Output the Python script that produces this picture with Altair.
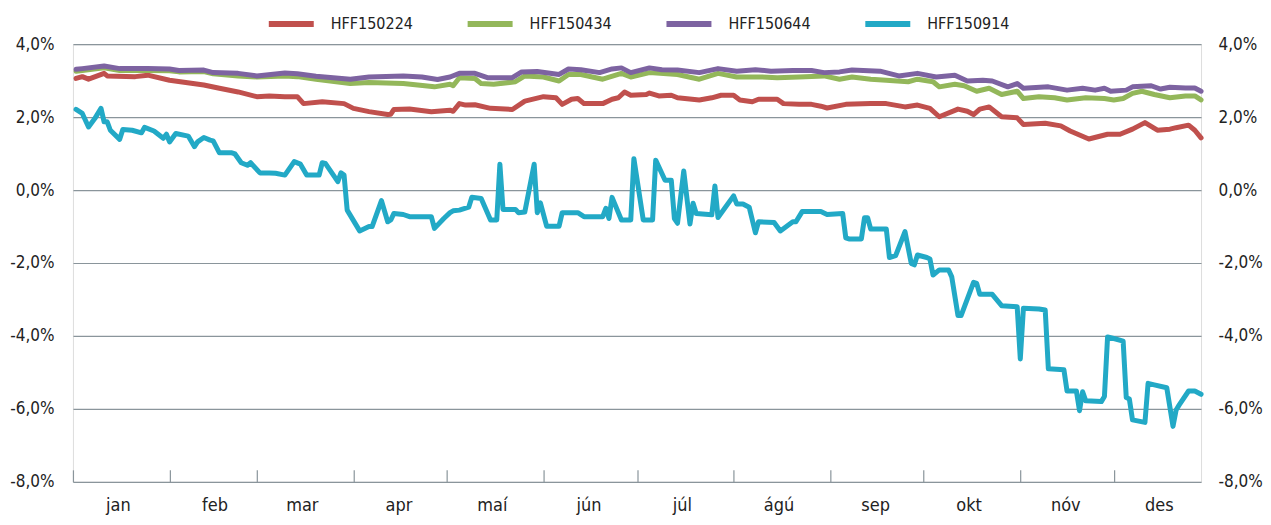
import json
import altair as alt
import pandas as pd

YEAR = 2018
series_names = ["HFF150224", "HFF150434", "HFF150644", "HFF150914"]
series_colors = ["#c0504d", "#93b75a", "#7d63a1", "#22a9c6"]
month_labels = ["jan", "feb", "mar", "apr", "maí", "jún", "júl", "ágú", "sep", "okt", "nóv", "des"]
y_ticks = [-8, -6, -4, -2, 0, 2, 4]

# day index from 1 January
red_days = [1, 3, 5, 10, 11, 20, 24, 31, 42, 47, 53, 59, 63, 68, 72, 74, 80, 87, 90, 95,
            101, 102, 103, 108, 115, 121, 122, 124, 126, 129, 134, 141, 145, 151, 155, 157, 160, 162, 164, 170,
            173, 175, 177, 179, 184, 185, 188, 192, 194, 201, 205, 208, 212, 214, 218, 220, 226, 228, 233, 237,
            240, 242, 248, 256, 261, 267, 271, 275, 278, 284, 287, 289, 291, 294, 298, 303, 305, 312, 317, 320,
            326, 332, 336, 340, 344, 348, 352, 354, 358, 360, 362]
red_vals = [3.06, 3.11, 3.04, 3.20, 3.13, 3.11, 3.15, 3.01, 2.88, 2.79, 2.69, 2.56, 2.58, 2.56, 2.56, 2.37, 2.42, 2.37, 2.24, 2.15,
            2.07, 2.08, 2.21, 2.22, 2.15, 2.19, 2.16, 2.37, 2.33, 2.34, 2.24, 2.21, 2.44, 2.56, 2.53, 2.35, 2.49, 2.51, 2.37, 2.37,
            2.49, 2.53, 2.69, 2.60, 2.62, 2.66, 2.58, 2.60, 2.53, 2.47, 2.53, 2.60, 2.60, 2.47, 2.42, 2.49, 2.49, 2.37, 2.35, 2.35,
            2.30, 2.25, 2.35, 2.37, 2.37, 2.28, 2.33, 2.24, 2.01, 2.22, 2.16, 2.07, 2.22, 2.28, 2.01, 1.98, 1.80, 1.83, 1.76, 1.62,
            1.40, 1.53, 1.53, 1.67, 1.85, 1.64, 1.67, 1.71, 1.78, 1.64, 1.43]

green_days = [1, 3, 10, 15, 24, 31, 34, 42, 45, 53, 59, 68, 72, 78, 89, 95, 106, 116, 121, 122,
              124, 129, 131, 135, 142, 145, 151, 156, 159, 163, 170, 176, 179, 185, 194, 201, 207, 213, 221, 226,
              233, 241, 246, 250, 256, 261, 268, 271, 276, 278, 283, 286, 290, 294, 298, 303, 305, 310, 315, 319,
              325, 331, 334, 337, 340, 343, 347, 352, 357, 360, 362]
green_vals = [3.26, 3.28, 3.35, 3.28, 3.28, 3.27, 3.24, 3.25, 3.19, 3.13, 3.10, 3.13, 3.11, 3.04, 2.92, 2.95, 2.92, 2.83, 2.90, 2.86,
              3.08, 3.06, 2.92, 2.90, 2.97, 3.13, 3.10, 2.99, 3.17, 3.17, 3.04, 3.20, 3.10, 3.22, 3.17, 3.04, 3.20, 3.10, 3.10, 3.08,
              3.10, 3.13, 3.04, 3.10, 3.04, 3.01, 2.97, 3.04, 2.97, 2.83, 2.90, 2.86, 2.71, 2.79, 2.62, 2.71, 2.51, 2.56, 2.53, 2.47,
              2.53, 2.51, 2.47, 2.51, 2.65, 2.71, 2.62, 2.53, 2.58, 2.58, 2.47]

purple_days = [1, 3, 10, 15, 24, 31, 34, 42, 45, 53, 59, 68, 72, 78, 89, 95, 106, 112, 117, 121,
               124, 129, 133, 141, 144, 149, 156, 159, 163, 169, 173, 176, 179, 185, 189, 194, 201, 207, 213, 219,
               224, 231, 237, 241, 246, 250, 259, 265, 271, 277, 283, 287, 292, 295, 300, 303, 305, 313, 319, 324,
               328, 331, 333, 338, 340, 346, 349, 352, 357, 360, 362]
purple_vals = [3.31, 3.33, 3.40, 3.33, 3.33, 3.32, 3.28, 3.29, 3.22, 3.20, 3.13, 3.21, 3.19, 3.12, 3.04, 3.10, 3.13, 3.10, 3.03, 3.10,
               3.20, 3.20, 3.08, 3.08, 3.24, 3.25, 3.17, 3.32, 3.30, 3.22, 3.32, 3.35, 3.22, 3.35, 3.30, 3.29, 3.22, 3.33, 3.26, 3.30,
               3.26, 3.28, 3.28, 3.22, 3.24, 3.29, 3.26, 3.13, 3.20, 3.10, 3.15, 2.99, 3.01, 2.99, 2.83, 2.92, 2.79, 2.83, 2.74, 2.79,
               2.74, 2.79, 2.71, 2.74, 2.83, 2.86, 2.77, 2.82, 2.80, 2.80, 2.71]

blue_days = [1, 3, 5, 7, 9, 10, 11, 12, 15, 16, 19, 22, 23, 26, 29, 30, 31, 33, 37, 39,
             40, 42, 44, 45, 47, 51, 52, 54, 56, 57, 60, 63, 65, 68, 71, 73, 75, 79, 80, 81,
             85, 86, 87, 88, 92, 95, 96, 99, 101, 102, 103, 106, 108, 115, 116, 119, 121, 122, 124, 127,
             128, 131, 134, 136, 137, 138, 142, 143, 145, 148, 149, 150, 152, 156, 157, 162, 164, 170, 171, 172,
             173, 176, 179, 180, 183, 186, 187, 190, 192, 193, 194, 196, 198, 199, 200, 205, 206, 207, 212, 213,
             215, 217, 219, 220, 225, 227, 231, 232, 234, 240, 242, 247, 248, 249, 253, 254, 255, 256, 261, 262,
             264, 267, 269, 270, 271, 274, 275, 276, 278, 281, 282, 284, 285, 289, 290, 291, 295, 298, 303, 304,
             305, 310, 312, 313, 318, 319, 322, 323, 324, 325, 330, 331, 332, 334, 337, 338, 339, 340, 344, 345,
             347, 351, 353, 354, 355, 358, 360, 362]
blue_vals = [2.21, 2.10, 1.73, 1.96, 2.24, 1.87, 1.87, 1.64, 1.39, 1.66, 1.64, 1.57, 1.72, 1.62, 1.42, 1.53, 1.32, 1.55, 1.48, 1.19,
             1.32, 1.44, 1.37, 1.35, 1.02, 1.02, 0.99, 0.75, 0.68, 0.75, 0.47, 0.47, 0.46, 0.41, 0.78, 0.71, 0.41, 0.41, 0.75, 0.73,
             0.23, 0.47, 0.41, -0.55, -1.12, -1.00, -1.00, -0.29, -0.87, -0.82, -0.64, -0.67, -0.73, -0.73, -1.05, -0.78, -0.62, -0.57, -0.55, -0.47,
             -0.20, -0.23, -0.82, -0.82, 0.71, -0.53, -0.53, -0.62, -0.60, 0.71, -0.62, -0.35, -0.99, -0.99, -0.62, -0.62, -0.73, -0.73, -0.50, -0.78,
             -0.20, -0.82, -0.82, 0.86, -0.82, -0.82, 0.82, 0.27, 0.27, -0.78, -0.91, 0.52, -0.93, -0.36, -0.64, -0.68, 0.11, -0.75, -0.16, -0.38,
             -0.38, -0.47, -1.17, -0.87, -0.89, -1.12, -0.87, -0.87, -0.59, -0.59, -0.67, -0.64, -1.31, -1.34, -1.34, -0.76, -0.76, -1.07, -1.07, -1.85,
             -1.80, -1.14, -2.01, -2.05, -1.78, -1.85, -1.89, -2.33, -2.19, -2.19, -2.38, -3.44, -3.44, -2.53, -2.56, -2.86, -2.86, -3.17, -3.20, -4.63,
             -3.24, -3.26, -3.29, -4.90, -4.93, -5.51, -5.51, -6.05, -5.53, -5.78, -5.80, -5.66, -4.03, -4.07, -4.14, -5.69, -5.73, -6.30, -6.37, -5.30,
             -5.34, -5.42, -6.48, -6.03, -5.89, -5.51, -5.51, -5.60]

FONT = "'DejaVu Sans Condensed', 'Liberation Sans Narrow', sans-serif"
TEXT = "#222222"
GRID = "#8a959b"


def build(name, days, vals):
    start = pd.Timestamp(f"{YEAR}-01-01")
    return pd.DataFrame({
        "date": [(start + pd.Timedelta(days=d)).strftime("%Y-%m-%d") for d in days],
        "value": vals,
        "series": name,
    })


df = pd.concat([
    build(series_names[0], red_days, red_vals),
    build(series_names[1], green_days, green_vals),
    build(series_names[2], purple_days, purple_vals),
    build(series_names[3], blue_days, blue_vals),
], ignore_index=True)

x_scale = alt.Scale(type="utc", domain=[alt.DateTime(year=YEAR, month=1, date=1, utc=True),
                                         alt.DateTime(year=YEAR, month=12, date=29, utc=True)])
y_scale = alt.Scale(domain=[-8, 4], nice=False, zero=False)
month_expr = json.dumps(month_labels, ensure_ascii=False) + "[utcmonth(datum.value)]"
pct_expr = "(datum.value < 0 ? '-' : '') + replace(format(abs(datum.value), '.1f'), '.', ',') + '%'"

x_axis = alt.Axis(values=[alt.DateTime(year=YEAR, month=m, date=1, utc=True) for m in range(1, 13)],
                  labelExpr=month_expr, title=None, domain=False, grid=False,
                  ticks=True, tickSize=12, tickColor=GRID, tickWidth=1.2, offset=-12,
                  labelOffset=45, labelPadding=29, labelBaseline="alphabetic",
                  labelFlush=False, labelOverlap=False, labelFont=FONT, labelFontSize=18,
                  labelColor=TEXT)

left_axis = alt.Axis(values=y_ticks, labelExpr=pct_expr, title=None, grid=True, gridColor=GRID,
                     gridWidth=1.2, domain=False, ticks=False, labelPadding=19,
                     labelFont=FONT, labelFontSize=17, labelColor=TEXT)
right_axis = alt.Axis(orient="right", values=y_ticks, labelExpr=pct_expr, title=None, grid=False,
                      domain=False, ticks=False, labelPadding=17,
                      labelFont=FONT, labelFontSize=17, labelColor=TEXT)

lines = alt.Chart(df).mark_line(strokeWidth=5, strokeCap="round", strokeJoin="round").encode(
    x=alt.X("date:T", scale=x_scale, axis=x_axis),
    y=alt.Y("value:Q", scale=y_scale, axis=left_axis),
    color=alt.Color("series:N", scale=alt.Scale(domain=series_names, range=series_colors),
                    legend=alt.Legend(orient="none", legendX=193, legendY=-46, direction="horizontal",
                                      title=None, symbolType="stroke", symbolSize=2025,
                                      symbolStrokeWidth=6, labelFont=FONT, labelFontSize=16,
                                      labelColor=TEXT, labelOffset=14, columnPadding=42, padding=0)),
)

right = alt.Chart(df).mark_line(opacity=0).encode(
    x=alt.X("date:T", scale=x_scale, axis=x_axis),
    y=alt.Y("value:Q", scale=y_scale, axis=right_axis),
    detail="series:N",
)

chart = alt.layer(lines, right).resolve_scale(y="independent").properties(
    width=1129, height=438,
    padding={"left": 65, "top": 36, "right": 62, "bottom": 35},
    autosize=alt.AutoSizeParams(type="none"),
).configure_view(stroke=None).configure(background="white")

chart.save("out.html", embed_options={"renderer": "svg", "actions": False})
